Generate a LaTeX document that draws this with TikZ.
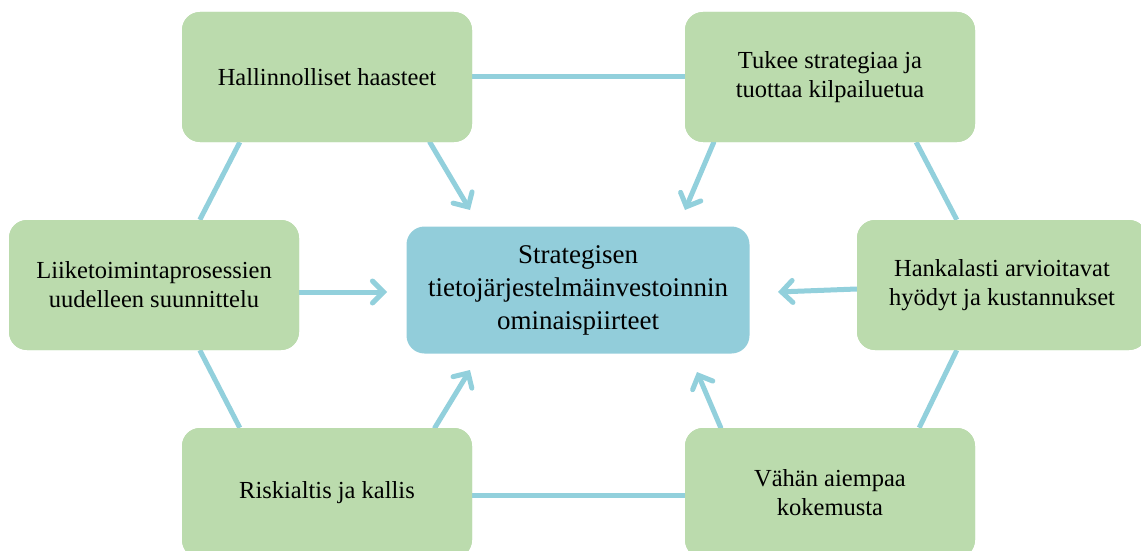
\documentclass[tikz,border=0pt]{standalone}
\usepackage{fontspec}
\setmainfont{Liberation Serif}
\usetikzlibrary{arrows.meta,calc}
\definecolor{boxgreen}{RGB}{187,219,173}
\definecolor{boxblue}{RGB}{146,205,218}
\definecolor{linkblue}{RGB}{146,208,220}
\tikzset{
  outerbox/.style={fill=boxgreen, draw=none, rounded corners=18pt, minimum width=290pt, minimum height=130pt,
    align=center, font=\fontsize{24.5pt}{29pt}\selectfont, inner sep=0pt},
  centerbox/.style={fill=boxblue, draw=none, rounded corners=18pt, minimum width=343pt, minimum height=127pt,
    align=center, font=\fontsize{27pt}{33pt}\selectfont, inner sep=0pt},
  link/.style={draw=linkblue, line width=5pt},
  flow/.style={draw=linkblue, line width=5pt, line cap=round, -{Straight Barb[length=11pt,width=22pt,line cap=round]}},
}
\begin{document}
\begin{tikzpicture}[x=1pt,y=-1pt]
\useasboundingbox (0,0) rectangle (1141,551);
\clip (0,0) rectangle (1141,551);
% nodes
\node[outerbox] (TL) at (327,77) {Hallinnolliset haasteet};
\node[outerbox] (TR) at (830,77) {Tukee strategiaa ja\\tuottaa kilpailuetua};
\node[outerbox] (ML) at (154,285) {Liiketoimintaprosessien\\uudelleen suunnittelu};
\node[outerbox] (MR) at (1002,285) {Hankalasti arvioitavat\\hyödyt ja kustannukset};
\node[outerbox] (BL) at (327,493) {Riskialtis ja kallis};
\node[outerbox] (BR) at (830,493) {Vähän aiempaa\\kokemusta};
\node[centerbox] (C) at (578,290) {Strategisen\\tietojärjestelmäinvestoinnin\\ominaispiirteet};
% arrow tips near centre box
\coordinate (tTL) at (470,210);
\coordinate (tTR) at (685,210);
\coordinate (tML) at (387,292);
\coordinate (tMR) at (778,292);
\coordinate (tBL) at (470,370);
\coordinate (tBR) at (697,372);
% hexagon links
\draw[link] (TL.east) -- (TR.west);
\draw[link] (BL.east |- 0,495) -- (BR.west |- 0,495);
\draw[link] ([xshift=58pt]TL.south west) -- ([xshift=191pt]ML.north west);
\draw[link] ([xshift=191pt]ML.south west) -- ([xshift=58pt]BL.north west);
\draw[link] ([xshift=-59pt]TR.south east) -- ([xshift=100pt]MR.north west);
\draw[link] ([xshift=100pt]MR.south west) -- ([xshift=-56pt]BR.north east);
% arrows
\draw[flow] ([xshift=248pt]TL.south west) -- (tTL);
\draw[flow] ([xshift=29pt]TR.south west) -- (tTR);
\draw[flow] (ML.east |- 0,292) -- (tML);
\draw[flow] (MR.west |- 0,289) -- (tMR);
\draw[flow] ([xshift=253pt]BL.north west) -- (tBL);
\draw[flow] ([xshift=36pt]BR.north west) -- (tBR);
% redraw boxes on top
\node[outerbox] at (TL) {Hallinnolliset haasteet};
\node[outerbox] at (TR) {Tukee strategiaa ja\\tuottaa kilpailuetua};
\node[outerbox] at (ML) {Liiketoimintaprosessien\\uudelleen suunnittelu};
\node[outerbox] at (MR) {Hankalasti arvioitavat\\hyödyt ja kustannukset};
\node[outerbox] at (BL) {Riskialtis ja kallis};
\node[outerbox] at (BR) {Vähän aiempaa\\kokemusta};
\end{tikzpicture}
\end{document}
